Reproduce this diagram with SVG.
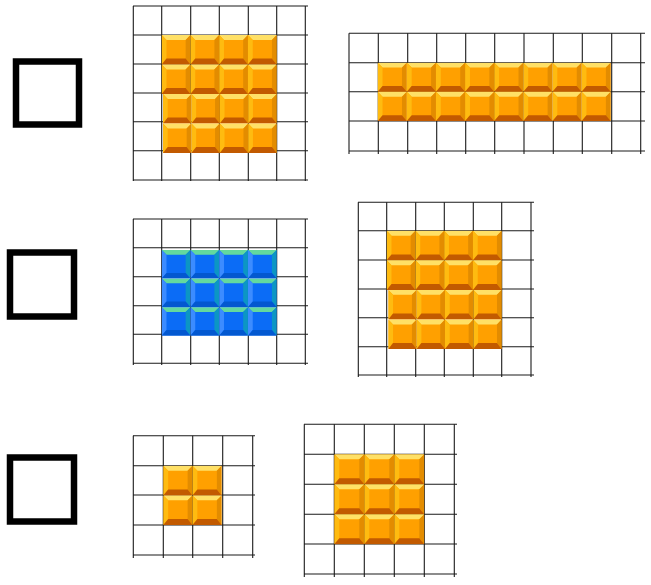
<svg xmlns="http://www.w3.org/2000/svg" xmlns:xlink="http://www.w3.org/1999/xlink" width="651" height="585" viewBox="0 0 651 585">
<style>
.g line{stroke:#1a1a1a;stroke-width:1.1}
.box{fill:none;stroke:#000;stroke-width:6.5}
</style>
<defs>
<symbol id="ot" viewBox="0 0 30 30" preserveAspectRatio="none">
<rect x="0" y="0" width="30" height="30" fill="#FFA000"/>
<polygon points="0,0 30,0 25,5 5,5" fill="#FFE066"/>
<polygon points="0,0 5,5 5,24 0,30" fill="#FFBB10"/>
<polygon points="30,0 30,30 25,24 25,5" fill="#E38C00"/>
<polygon points="0,30 5,24 25,24 30,30" fill="#C25A00"/>
</symbol>
<symbol id="bt" viewBox="0 0 30 30" preserveAspectRatio="none">
<rect x="0" y="0" width="30" height="30" fill="#0B6CF6"/>
<polygon points="0,0 30,0 25,5 5,5" fill="#63D99E"/>
<polygon points="0,0 5,5 5,24 0,30" fill="#3C8CFF"/>
<polygon points="30,0 30,30 25,24 25,5" fill="#0C96C4"/>
<polygon points="0,30 5,24 25,24 30,30" fill="#0358D0"/>
</symbol>
</defs>

<g id="box1"><rect class="box" x="16" y="61.5" width="63" height="63"/></g>
<g id="box2"><rect class="box" x="10" y="252.5" width="64" height="64"/></g>
<g id="box3"><rect class="box" x="10" y="457.5" width="64" height="64"/></g>

<g id="grid1" class="g">
<g>
<line x1="133.3" y1="6" x2="133.3" y2="181"/><line x1="161.7" y1="6" x2="161.7" y2="181"/><line x1="190.7" y1="6" x2="190.7" y2="181"/><line x1="219.3" y1="6" x2="219.3" y2="181"/><line x1="248.3" y1="6" x2="248.3" y2="181"/><line x1="276.7" y1="6" x2="276.7" y2="181"/><line x1="305.3" y1="6" x2="305.3" y2="181"/>
<line x1="133" y1="6" x2="308" y2="6"/><line x1="133" y1="35" x2="308" y2="35"/><line x1="133" y1="64" x2="308" y2="64"/><line x1="133" y1="93" x2="308" y2="93"/><line x1="133" y1="121.7" x2="308" y2="121.7"/><line x1="133" y1="150.7" x2="308" y2="150.7"/><line x1="133" y1="180" x2="308" y2="180"/>
</g>
<g>
<use href="#ot" x="161.7" y="35" width="28.75" height="29.5"/><use href="#ot" x="190.45" y="35" width="28.75" height="29.5"/><use href="#ot" x="219.2" y="35" width="28.75" height="29.5"/><use href="#ot" x="247.95" y="35" width="28.75" height="29.5"/>
<use href="#ot" x="161.7" y="64.5" width="28.75" height="29.5"/><use href="#ot" x="190.45" y="64.5" width="28.75" height="29.5"/><use href="#ot" x="219.2" y="64.5" width="28.75" height="29.5"/><use href="#ot" x="247.95" y="64.5" width="28.75" height="29.5"/>
<use href="#ot" x="163" y="94" width="28.4" height="29.5"/><use href="#ot" x="191.4" y="94" width="28.4" height="29.5"/><use href="#ot" x="219.8" y="94" width="28.4" height="29.5"/><use href="#ot" x="248.2" y="94" width="28.5" height="29.5"/>
<use href="#ot" x="163" y="123.5" width="28.4" height="29.5"/><use href="#ot" x="191.4" y="123.5" width="28.4" height="29.5"/><use href="#ot" x="219.8" y="123.5" width="28.4" height="29.5"/><use href="#ot" x="248.2" y="123.5" width="28.5" height="29.5"/>
</g>
</g>

<g id="grid2" class="g">
<g>
<line x1="349" y1="33.3" x2="349" y2="154"/><line x1="378.3" y1="33.3" x2="378.3" y2="154"/><line x1="407.7" y1="33.3" x2="407.7" y2="154"/><line x1="436.7" y1="33.3" x2="436.7" y2="154"/><line x1="465.7" y1="33.3" x2="465.7" y2="154"/><line x1="494.7" y1="33.3" x2="494.7" y2="154"/><line x1="524" y1="33.3" x2="524" y2="154"/><line x1="553.3" y1="33.3" x2="553.3" y2="154"/><line x1="582.3" y1="33.3" x2="582.3" y2="154"/><line x1="611.7" y1="33.3" x2="611.7" y2="154"/><line x1="640.7" y1="33.3" x2="640.7" y2="154"/>
<line x1="349" y1="33.3" x2="645" y2="33.3"/><line x1="349" y1="62.7" x2="645" y2="62.7"/><line x1="349" y1="91.7" x2="645" y2="91.7"/><line x1="349" y1="121" x2="645" y2="121"/><line x1="349" y1="151" x2="645" y2="151"/>
</g>
<g>
<use href="#ot" x="377.7" y="62.7" width="29.13" height="29.15"/><use href="#ot" x="406.83" y="62.7" width="29.13" height="29.15"/><use href="#ot" x="435.96" y="62.7" width="29.13" height="29.15"/><use href="#ot" x="465.09" y="62.7" width="29.13" height="29.15"/><use href="#ot" x="494.22" y="62.7" width="29.13" height="29.15"/><use href="#ot" x="523.35" y="62.7" width="29.13" height="29.15"/><use href="#ot" x="552.48" y="62.7" width="29.13" height="29.15"/><use href="#ot" x="581.61" y="62.7" width="29.13" height="29.15"/>
<use href="#ot" x="377.7" y="91.85" width="29.13" height="29.15"/><use href="#ot" x="406.83" y="91.85" width="29.13" height="29.15"/><use href="#ot" x="435.96" y="91.85" width="29.13" height="29.15"/><use href="#ot" x="465.09" y="91.85" width="29.13" height="29.15"/><use href="#ot" x="494.22" y="91.85" width="29.13" height="29.15"/><use href="#ot" x="523.35" y="91.85" width="29.13" height="29.15"/><use href="#ot" x="552.48" y="91.85" width="29.13" height="29.15"/><use href="#ot" x="581.61" y="91.85" width="29.13" height="29.15"/>
</g>
</g>

<g id="grid3" class="g">
<g>
<line x1="133.3" y1="219" x2="133.3" y2="365"/><line x1="161.7" y1="219" x2="161.7" y2="365"/><line x1="190.7" y1="219" x2="190.7" y2="365"/><line x1="219.3" y1="219" x2="219.3" y2="365"/><line x1="248.3" y1="219" x2="248.3" y2="365"/><line x1="276.7" y1="219" x2="276.7" y2="365"/><line x1="305.3" y1="219" x2="305.3" y2="365"/>
<line x1="133" y1="219" x2="308" y2="219"/><line x1="133" y1="247.7" x2="308" y2="247.7"/><line x1="133" y1="276.7" x2="308" y2="276.7"/><line x1="133" y1="305.7" x2="308" y2="305.7"/><line x1="133" y1="334.3" x2="308" y2="334.3"/><line x1="133" y1="363.3" x2="308" y2="363.3"/>
</g>
<g>
<use href="#bt" x="161.7" y="250" width="28.75" height="28.6"/><use href="#bt" x="190.45" y="250" width="28.75" height="28.6"/><use href="#bt" x="219.2" y="250" width="28.75" height="28.6"/><use href="#bt" x="247.95" y="250" width="28.75" height="28.6"/>
<use href="#bt" x="161.7" y="278.6" width="28.75" height="28.6"/><use href="#bt" x="190.45" y="278.6" width="28.75" height="28.6"/><use href="#bt" x="219.2" y="278.6" width="28.75" height="28.6"/><use href="#bt" x="247.95" y="278.6" width="28.75" height="28.6"/>
<use href="#bt" x="161.7" y="307.2" width="28.75" height="28.5"/><use href="#bt" x="190.45" y="307.2" width="28.75" height="28.5"/><use href="#bt" x="219.2" y="307.2" width="28.75" height="28.5"/><use href="#bt" x="247.95" y="307.2" width="28.75" height="28.5"/>
</g>
</g>

<g id="grid4" class="g">
<g>
<line x1="358.3" y1="202.3" x2="358.3" y2="377"/><line x1="386.7" y1="202.3" x2="386.7" y2="377"/><line x1="415.7" y1="202.3" x2="415.7" y2="377"/><line x1="444.3" y1="202.3" x2="444.3" y2="377"/><line x1="473.3" y1="202.3" x2="473.3" y2="377"/><line x1="501.7" y1="202.3" x2="501.7" y2="377"/><line x1="531" y1="202.3" x2="531" y2="377"/>
<line x1="358" y1="202.3" x2="534" y2="202.3"/><line x1="358" y1="230.7" x2="534" y2="230.7"/><line x1="358" y1="260" x2="534" y2="260"/><line x1="358" y1="289" x2="534" y2="289"/><line x1="358" y1="317.7" x2="534" y2="317.7"/><line x1="358" y1="346.7" x2="534" y2="346.7"/><line x1="358" y1="375" x2="534" y2="375"/>
</g>
<g>
<use href="#ot" x="386.7" y="230.7" width="28.75" height="29.6"/><use href="#ot" x="415.45" y="230.7" width="28.75" height="29.6"/><use href="#ot" x="444.2" y="230.7" width="28.75" height="29.6"/><use href="#ot" x="472.95" y="230.7" width="28.75" height="29.6"/>
<use href="#ot" x="386.7" y="260.3" width="28.75" height="29.6"/><use href="#ot" x="415.45" y="260.3" width="28.75" height="29.6"/><use href="#ot" x="444.2" y="260.3" width="28.75" height="29.6"/><use href="#ot" x="472.95" y="260.3" width="28.75" height="29.6"/>
<use href="#ot" x="388.3" y="289.9" width="28.35" height="29.6"/><use href="#ot" x="416.65" y="289.9" width="28.35" height="29.6"/><use href="#ot" x="445" y="289.9" width="28.35" height="29.6"/><use href="#ot" x="473.35" y="289.9" width="28.35" height="29.6"/>
<use href="#ot" x="388.3" y="319.5" width="28.35" height="29.5"/><use href="#ot" x="416.65" y="319.5" width="28.35" height="29.5"/><use href="#ot" x="445" y="319.5" width="28.35" height="29.5"/><use href="#ot" x="473.35" y="319.5" width="28.35" height="29.5"/>
</g>
</g>

<g id="grid5" class="g">
<g>
<line x1="133.3" y1="435.7" x2="133.3" y2="558"/><line x1="163.3" y1="435.7" x2="163.3" y2="558"/><line x1="192.7" y1="435.7" x2="192.7" y2="558"/><line x1="222.7" y1="435.7" x2="222.7" y2="558"/><line x1="252.7" y1="435.7" x2="252.7" y2="558"/>
<line x1="133" y1="435.7" x2="255" y2="435.7"/><line x1="133" y1="465.7" x2="255" y2="465.7"/><line x1="133" y1="495" x2="255" y2="495"/><line x1="133" y1="525" x2="255" y2="525"/><line x1="133" y1="555" x2="255" y2="555"/>
</g>
<g>
<use href="#ot" x="163.3" y="465.7" width="29.2" height="29.7"/><use href="#ot" x="192.5" y="465.7" width="29.2" height="29.7"/>
<use href="#ot" x="163.3" y="495.4" width="29.2" height="29.6"/><use href="#ot" x="192.5" y="495.4" width="29.2" height="29.6"/>
</g>
</g>

<g id="grid6" class="g">
<g>
<line x1="304.3" y1="424.3" x2="304.3" y2="577"/><line x1="334.3" y1="424.3" x2="334.3" y2="577"/><line x1="364.3" y1="424.3" x2="364.3" y2="577"/><line x1="394.3" y1="424.3" x2="394.3" y2="577"/><line x1="424.3" y1="424.3" x2="424.3" y2="577"/><line x1="454.3" y1="424.3" x2="454.3" y2="577"/>
<line x1="304" y1="424.3" x2="457" y2="424.3"/><line x1="304" y1="454.3" x2="457" y2="454.3"/><line x1="304" y1="484.3" x2="457" y2="484.3"/><line x1="304" y1="514.3" x2="457" y2="514.3"/><line x1="304" y1="544" x2="457" y2="544"/><line x1="304" y1="574" x2="457" y2="574"/>
</g>
<g>
<use href="#ot" x="334.3" y="454.3" width="30" height="30"/><use href="#ot" x="364.3" y="454.3" width="30" height="30"/><use href="#ot" x="394.3" y="454.3" width="30" height="30"/>
<use href="#ot" x="334.3" y="484.3" width="30" height="30"/><use href="#ot" x="364.3" y="484.3" width="30" height="30"/><use href="#ot" x="394.3" y="484.3" width="30" height="30"/>
<use href="#ot" x="334.3" y="514.3" width="30" height="30"/><use href="#ot" x="364.3" y="514.3" width="30" height="30"/><use href="#ot" x="394.3" y="514.3" width="30" height="30"/>
</g>
</g>
</svg>
